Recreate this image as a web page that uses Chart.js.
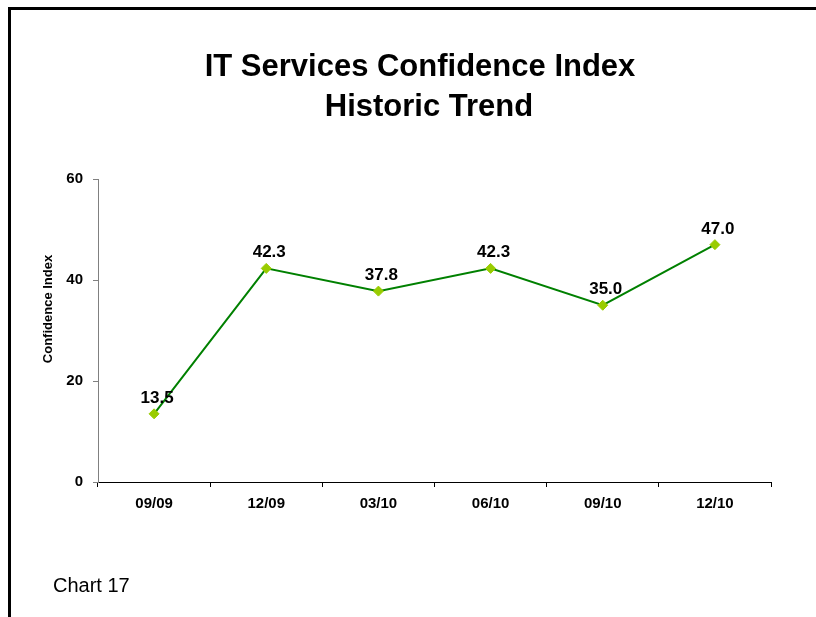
<!DOCTYPE html>
<html>
<head>
<meta charset="utf-8">
<title>IT Services Confidence Index</title>
<script src="https://cdn.jsdelivr.net/npm/chart.js@4.4.1/dist/chart.umd.min.js"></script>
<style>
  body { margin: 0; background: #fff; }
  #page { position: relative; width: 816px; height: 617px; overflow: hidden; font-family: "Liberation Sans", Arial, sans-serif; color: #000; }
  #frame { position: absolute; left: 8px; top: 7px; width: 900px; height: 700px; border-top: 3px solid #000; border-left: 3px solid #000; }
  .title { position: absolute; font-weight: bold; font-size: 31px; line-height: 40px; white-space: nowrap; transform: translateX(-50%); }
  #chartBox { position: absolute; left: 0; top: 0; }
  #note { position: absolute; left: 53px; top: 573px; font-size: 20px; line-height: 24px; }
</style>
</head>
<body>
<div id="page">
  <div id="frame"></div>
  <canvas id="chartBox" width="816" height="617"></canvas>
  <div class="title" style="left:420px; top:46px;">IT Services Confidence Index</div>
  <div class="title" style="left:429px; top:86px;">Historic Trend</div>
  <div id="note">Chart 17</div>
</div>
<script>
// quarterly index readings
const quarters = ['09/09', '12/09', '03/10', '06/10', '09/10', '12/10'];
const confidence = [13.5, 42.3, 37.8, 42.3, 35.0, 47.0];
const yMin = 0;
const yMax = 60;
const yStep = 20;
const yAxisLabel = 'Confidence Index';

const fontFamily = '"Liberation Sans", Arial, sans-serif';

// value labels above each point + the y axis caption
const chartText = {
  id: 'chartText',
  afterDatasetsDraw: function(chart) {
    const ctx = chart.ctx;
    const meta = chart.getDatasetMeta(0);
    ctx.save();
    ctx.fillStyle = '#000';
    ctx.font = 'bold 17px ' + fontFamily;
    ctx.textAlign = 'center';
    ctx.textBaseline = 'alphabetic';
    meta.data.forEach(function(pt, i) {
      ctx.fillText(confidence[i].toFixed(1), pt.x + 3, pt.y - 11);
    });

    ctx.font = 'bold 13px ' + fontFamily;
    ctx.textBaseline = 'middle';
    ctx.translate(48, 309);
    ctx.rotate(-Math.PI / 2);
    ctx.fillText(yAxisLabel, 0, 0);
    ctx.restore();
  }
};

const ctx = document.getElementById('chartBox').getContext('2d');
new Chart(ctx, {
  type: 'line',
  data: {
    labels: quarters,
    datasets: [{
      label: yAxisLabel,
      data: confidence,
      borderColor: '#008000',
      borderWidth: 2,
      tension: 0,
      pointStyle: 'rectRot',
      pointRadius: 5,
      pointBackgroundColor: '#99cc00',
      pointBorderColor: '#99cc00',
      pointBorderWidth: 1
    }]
  },
  options: {
    responsive: false,
    animation: false,
    devicePixelRatio: 1,
    layout: {
      padding: { top: 179, right: 45, bottom: 95, left: 0 }
    },
    plugins: {
      legend: { display: false },
      tooltip: { enabled: false },
      title: { display: false }
    },
    scales: {
      x: {
        offset: true,
        grid: {
          offset: true,
          drawOnChartArea: false,
          drawTicks: true,
          tickLength: 5,
          color: '#000'
        },
        border: { color: '#000', width: 1 },
        ticks: {
          color: '#000',
          padding: 8,
          maxRotation: 0,
          font: { family: fontFamily, size: 15, weight: 'bold' }
        },
        afterFit: function(scale) {
          scale.height = 40;
        }
      },
      y: {
        min: yMin,
        max: yMax,
        grid: {
          drawOnChartArea: false,
          drawTicks: true,
          tickLength: 5,
          color: '#808080'
        },
        border: { color: '#808080', width: 1 },
        ticks: {
          stepSize: yStep,
          color: '#000',
          padding: 10,
          font: { family: fontFamily, size: 15, weight: 'bold' }
        },
        afterFit: function(scale) {
          scale.width = 98;
        }
      }
    }
  },
  plugins: [chartText]
});
</script>
</body>
</html>
